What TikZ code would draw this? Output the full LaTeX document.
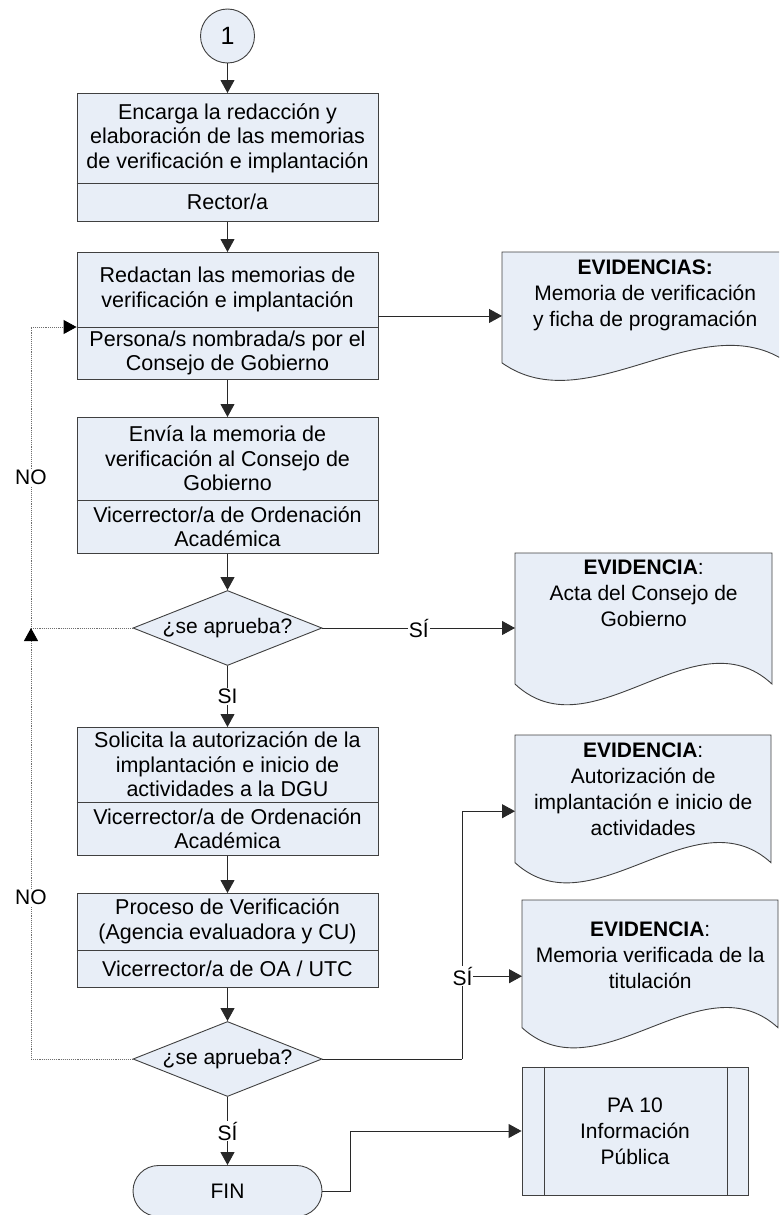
\documentclass[tikz,border=0pt]{standalone}
\usepackage{fontspec}
\setmainfont{Liberation Sans}
\usetikzlibrary{shapes.geometric,shapes.misc,arrows.meta,calc}
\definecolor{boxfill}{RGB}{232,238,247}
\definecolor{boxline}{RGB}{64,64,64}
\definecolor{lnk}{RGB}{40,40,40}
\definecolor{loopc}{RGB}{110,110,110}
\tikzset{
  every node/.style={font=\fontsize{21}{24}\selectfont},
  procbox/.style={draw=boxline, fill=boxfill, line width=0.9pt, minimum width=301pt, inner sep=0pt, anchor=north},
  boxtxt/.style={align=center, inner sep=0pt, font=\fontsize{21.5}{24.5}\selectfont},
  evtxt/.style={align=center, inner sep=0pt, font=\fontsize{21}{26}\selectfont},
  evbox/.style={inner sep=0pt, anchor=north west},
  docline/.style={draw=boxline, fill=boxfill, line width=0.9pt},
  decision/.style={diamond, aspect=2.52, draw=boxline, fill=boxfill, line width=0.9pt, minimum width=189pt, minimum height=75pt, inner sep=0pt},
  arr/.style={draw=lnk, line width=0.9pt, -{Triangle[length=13pt,width=14pt]}},
  plain/.style={draw=lnk, line width=0.9pt},
  loopline/.style={draw=loopc, line width=0.9pt, densely dotted},
  looparr/.style={loopline, -{Triangle[length=13pt,width=14pt,color=black]}},
  lbl/.style={fill=white, inner sep=1pt},
}
% process box: name, top y, top-part height, total height, top text, bottom text
\newcommand{\pbox}[6]{%
  \node[procbox, minimum height=#4pt] (#1) at (227.5,#2) {};
  \coordinate (#1d) at ($(#1.north west)+(0,#3)$);
  \draw[draw=boxline, line width=0.9pt] (#1d) -- ($(#1.north east)+(0,#3)$);
  \node[boxtxt] (#1a) at ($(#1.north)+(0,{#3/2})$) {#5};
  \node[boxtxt] (#1b) at ($(#1.north)+(0,{(#3+#4)/2})$) {#6};
}
% evidence document: name, x, top, W, H, text offset, text
\newcommand{\evid}[7]{%
  \node[evbox, minimum width=#4pt, minimum height=#5pt] (#1) at (#2,#3) {};
  \begin{scope}[shift={(#1.north west)}]
    \path[docline] (0,0) -- (#4,0) -- (#4,{0.84*#5})
      .. controls ({0.7*#4},{0.38*#5}) and ({0.3*#4},{1.30*#5}) .. (0,{0.84*#5}) -- cycle;
  \end{scope}
  \node[evtxt] (#1t) at ($(#1.north)+(0,#6)$) {#7};
}
\begin{document}
\begin{tikzpicture}[x=1pt,y=-1pt]
\useasboundingbox (0,0) rectangle (779,1215);
\clip (0,0) rectangle (779,1215);

\node[circle, draw=boxline, fill=boxfill, line width=0.9pt, minimum size=54pt, inner sep=0pt, font=\fontsize{25}{28}\selectfont] (c1) at (227.5,36) {1};

\pbox{b1}{93}{90}{128}{Encarga la redacción y\\elaboración de las memorias\\de verificación e implantación}{Rector/a}
\pbox{b2}{252}{75}{127}{Redactan las memorias de\\verificación e implantación}{Persona/s nombrada/s por el\\Consejo de Gobierno}
\pbox{b3}{417}{83}{136}{Envía la memoria de\\verificación al Consejo de\\Gobierno}{Vicerrector/a de Ordenación\\Académica}
\node[decision] (d1) at (227.5,628) {¿se aprueba?};
\pbox{b4}{727}{75}{128}{Solicita la autorización de la\\implantación e inicio de\\actividades a la DGU}{Vicerrector/a de Ordenación\\Académica}
\pbox{b5}{893}{57}{94}{Proceso de Verificación\\(Agencia evaluadora y CU)}{Vicerrector/a de OA / UTC}
\node[decision] (d2) at (227.5,1059) {¿se aprueba?};
\node[rounded rectangle, draw=boxline, fill=boxfill, line width=0.9pt, minimum width=189pt, minimum height=51pt, inner sep=0pt] (fin) at (227.5,1191) {FIN};

\evid{e1}{502}{252}{286}{132}{43}{\textbf{EVIDENCIAS:}\\Memoria de verificación\\y ficha de programación}
\evid{e2}{515}{553}{257}{156}{40}{\textbf{EVIDENCIA}:\\Acta del Consejo de\\Gobierno}
\evid{e3}{515}{735}{256}{152}{54}{\textbf{EVIDENCIA}:\\Autorización de\\implantación e inicio de\\actividades}
\evid{e4}{522}{900}{256}{152}{55}{\textbf{EVIDENCIA}:\\Memoria verificada de la\\titulación}

\node[draw=boxline, fill=boxfill, line width=0.9pt, minimum width=226pt, minimum height=128pt, inner sep=0pt, align=center, font=\fontsize{21}{26}\selectfont] (pa) at (635,1131) {PA 10\\Información\\Pública};
\draw[draw=boxline, line width=0.9pt] ($(pa.north west)+(23,0)$) -- ($(pa.south west)+(23,0)$);
\draw[draw=boxline, line width=0.9pt] ($(pa.north east)+(-21,0)$) -- ($(pa.south east)+(-21,0)$);

% main flow
\draw[arr] (c1.south) -- (b1.north);
\draw[arr] (b1.south) -- (b2.north);
\draw[arr] (b2.south) -- (b3.north);
\draw[arr] (b3.south) -- (d1.north);
\draw[arr] (d1.south) -- node[lbl] (si1) {SI} (b4.north);
\draw[arr] (b4.south) -- (b5.north);
\draw[arr] (b5.south) -- (d2.north);
\draw[arr] (d2.south) -- node[lbl] (si2) {SÍ} (fin.north);

% evidences
\draw[arr] (b2.east) -- (b2.east -| e1.west);
\draw[arr] (d1.east) -- node[lbl] (si3) {SÍ} (d1.east -| e2.west);
\coordinate (j) at ($(d2.east)+(140,0)$);
\draw[plain] (d2.east) -- (j);
\draw[arr] (j) |- (e3.west);
\draw[arr] (j |- e4.west) -- (e4.west);
\node[lbl] (si4) at (j |- e4.west) {SÍ};
\draw[arr] (fin.east) -- ++(28,0) |- (pa.west);

% NO loops
\coordinate (xL) at (31,0);
\draw[looparr] (d1.west) -- (d1.west -| xL) -- node[lbl] (no1) {NO} (xL |- b2d) -- (b2d);
\draw[looparr] (d2.west) -- (d2.west -| xL) -- node[lbl, pos=0.375] (no2) {NO} (xL |- d1.west);
\end{tikzpicture}
\end{document}
